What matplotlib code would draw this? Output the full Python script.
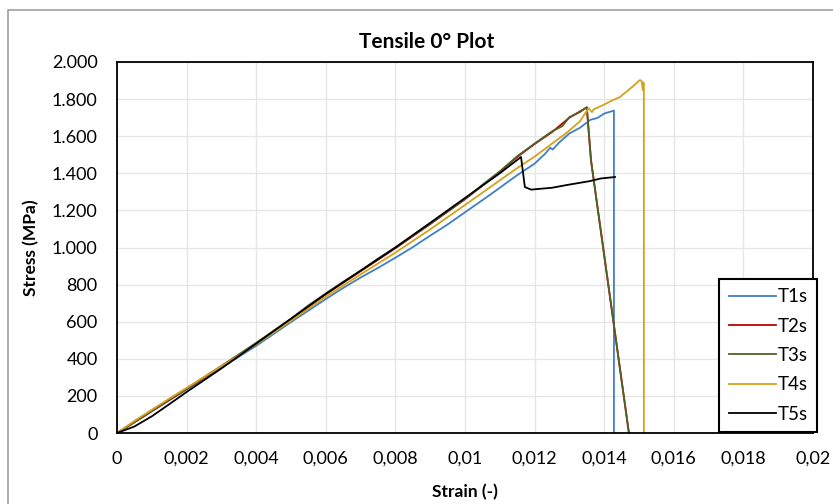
import numpy as np
import matplotlib
matplotlib.use("Agg")
import matplotlib.pyplot as plt
from matplotlib.ticker import FuncFormatter, MultipleLocator
from matplotlib.patches import Rectangle

plt.rcParams['font.family'] = ['Lato', 'DejaVu Sans']

# strain [-] / stress [MPa]
t1s_strain = [0, 0.0005, 0.001, 0.0015, 0.002, 0.003, 0.004, 0.005, 0.006, 0.0065, 0.007,
              0.0075, 0.008, 0.0085, 0.009, 0.0095, 0.010, 0.0105, 0.011, 0.0115, 0.012,
              0.0123, 0.01245, 0.01252, 0.0127, 0.0130, 0.0133, 0.0136, 0.0138, 0.0140,
              0.01428, 0.01428]
t1s_stress = [0, 58, 117, 176, 234, 352, 470, 598, 722, 782, 838,
              890, 945, 1002, 1064, 1124, 1190, 1255, 1322, 1390, 1452,
              1505, 1538, 1528, 1565, 1615, 1645, 1688, 1698, 1722,
              1738, 0]

t2s_strain = [0, 0.0005, 0.001, 0.0015, 0.002, 0.003, 0.004, 0.005, 0.006, 0.007, 0.008,
              0.009, 0.010, 0.011, 0.0115, 0.012, 0.0125, 0.0130, 0.0135, 0.01362, 0.01471]
t2s_stress = [0, 58, 118, 178, 238, 358, 482, 614, 748, 872, 996,
              1126, 1260, 1408, 1488, 1558, 1622, 1700, 1755, 1470, 0]

t3s_strain = [0, 0.0005, 0.001, 0.0015, 0.002, 0.003, 0.004, 0.005, 0.0055, 0.006, 0.0065,
              0.007, 0.0075, 0.008, 0.0085, 0.009, 0.0095, 0.010, 0.0105, 0.011, 0.0115,
              0.012, 0.0125, 0.0128, 0.0130, 0.0133, 0.0135, 0.01362, 0.01471]
t3s_stress = [0, 60, 120, 182, 240, 362, 486, 616, 688, 752, 815,
              875, 940, 1000, 1065, 1128, 1195, 1262, 1338, 1410, 1492,
              1560, 1626, 1655, 1703, 1730, 1757, 1472, 0]

t4s_strain = [0, 0.0005, 0.001, 0.0015, 0.002, 0.003, 0.004, 0.005, 0.006, 0.007, 0.008,
              0.009, 0.010, 0.011, 0.0115, 0.012, 0.0125, 0.0129, 0.0133, 0.01355, 0.01365,
              0.0137, 0.01397, 0.0142, 0.01445, 0.0148, 0.01503, 0.01508, 0.01511, 0.01513,
              0.01514, 0.01514]
t4s_stress = [0, 65, 125, 185, 243, 360, 478, 605, 735, 855, 972,
              1098, 1229, 1362, 1428, 1490, 1560, 1615, 1680, 1750, 1730,
              1745, 1768, 1790, 1811, 1865, 1903, 1895, 1849, 1890,
              1860, 0]

t5s_strain = [0, 0.0005, 0.001, 0.0015, 0.002, 0.003, 0.004, 0.005, 0.006, 0.007, 0.008,
              0.009, 0.010, 0.011, 0.01161, 0.01172, 0.0119, 0.01207, 0.0125, 0.01293,
              0.01359, 0.0139, 0.01431]
t5s_stress = [0, 35, 90, 155, 221, 348, 482, 616, 750, 875, 1000,
              1133, 1267, 1400, 1488, 1326, 1312, 1315, 1322, 1337,
              1358, 1372, 1380]

series = [
    ("T1s", t1s_strain, t1s_stress, "#3f7fc8"),
    ("T2s", t2s_strain, t2s_stress, "#c00000"),
    ("T3s", t3s_strain, t3s_stress, "#4f6228"),
    ("T4s", t4s_strain, t4s_stress, "#d4a21a"),
    ("T5s", t5s_strain, t5s_stress, "#000000"),
]

fig = plt.figure(figsize=(8.33, 5.04), dpi=100)
ax = fig.add_axes([117 / 833, 1 - 433 / 504, (813 - 117) / 833, (433 - 62) / 504])

for name, x, y, c in series:
    ax.plot(x, y, color=c, lw=1.3, label=name)

ax.set_xlim(0, 0.02)
ax.set_ylim(0, 2000)
ax.xaxis.set_major_locator(MultipleLocator(0.002))
ax.yaxis.set_major_locator(MultipleLocator(200))


def fmt_x(v, pos):
    s = f"{v:.3f}".rstrip("0").rstrip(".")
    return s.replace(".", ",")


def fmt_y(v, pos):
    return f"{int(round(v)):,}".replace(",", ".")


ax.xaxis.set_major_formatter(FuncFormatter(fmt_x))
ax.yaxis.set_major_formatter(FuncFormatter(fmt_y))
ax.tick_params(length=0, labelsize=13)
ax.tick_params(axis="y", pad=14)
ax.tick_params(axis="x", pad=13)
ax.grid(True, color="#e6e6e6", lw=1)
ax.set_axisbelow(True)
for sp in ax.spines.values():
    sp.set_color("black")
    sp.set_linewidth(1.3)

fig.text(427 / 833, 1 - 42 / 504, "Tensile 0° Plot", fontsize=15, fontweight="bold",
         ha="center", va="center")
ax.set_xlabel("Strain (-)", fontsize=12.5, fontweight="bold", labelpad=12)
ax.set_ylabel("Stress (MPa)", fontsize=12.5, fontweight="bold", labelpad=9)

leg = ax.legend(loc="lower right", bbox_to_anchor=(817 / 833, 1 - 432 / 504),
                bbox_transform=fig.transFigure, borderaxespad=0, fontsize=13.5,
                fancybox=False, framealpha=1, edgecolor="black",
                handlelength=2.5, handletextpad=0.1, labelspacing=0.66,
                borderpad=0.5)
leg.get_frame().set_linewidth(1.5)

# outer chart border
fig.patches.append(Rectangle((8 / 833, -0.1), 1.2, 1.1 - 10 / 504,
                             transform=fig.transFigure, fill=False,
                             edgecolor="#a0a0a0", lw=1.2))

fig.savefig("out.png", dpi=100)
